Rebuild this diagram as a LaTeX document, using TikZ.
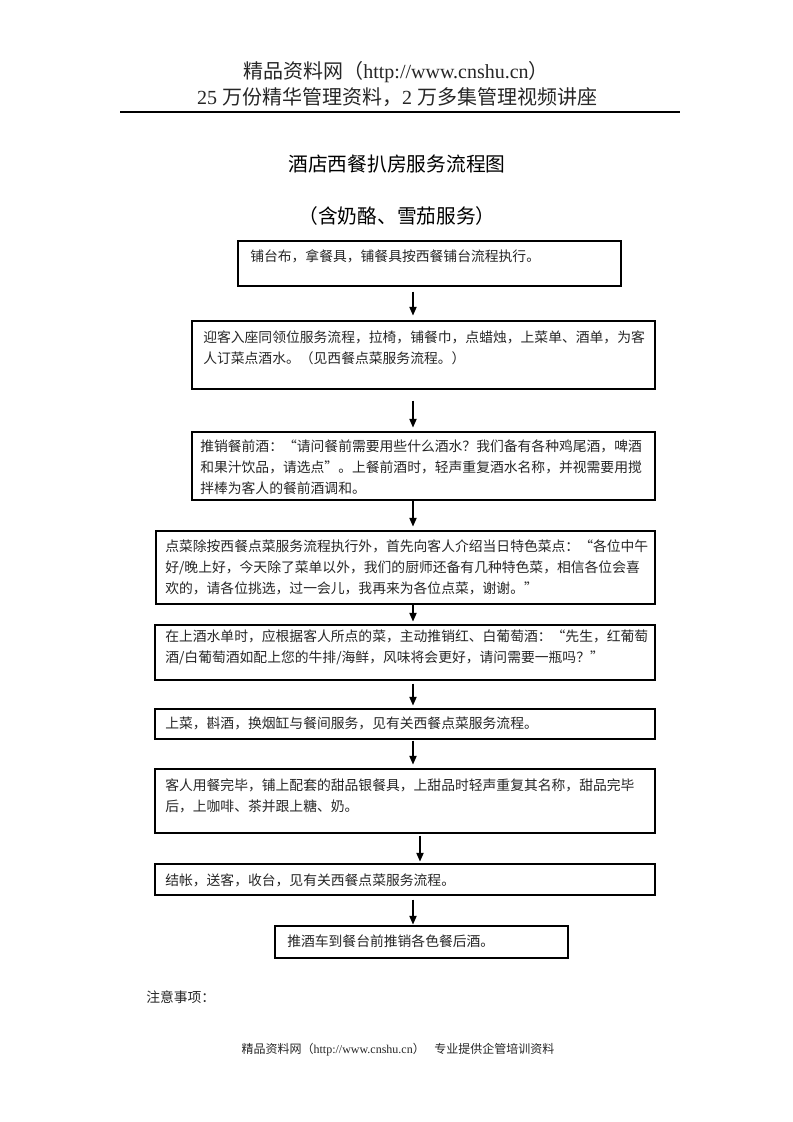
\documentclass[tikz,border=0pt]{standalone}
\usepackage{fontspec}
\setmainfont{Liberation Serif}
\newfontfamily\cjk{Noto Sans CJK SC}
\usetikzlibrary{arrows.meta,fit}
\begin{document}
\begin{tikzpicture}[x=0.75pt,y=-0.75pt,
  box/.style={draw, line width=0.8pt, inner sep=0pt},
  txt/.style={anchor=north west, inner sep=0pt, align=left, text=black!85,
    font=\cjk\fontsize{10.35pt}{15.5pt}\selectfont},
  hdr/.style={inner sep=0pt, text=black!85, font=\fontsize{15pt}{18pt}\selectfont},
  ttl/.style={inner sep=0pt, font=\cjk\fontsize{14.8pt}{18pt}\selectfont},
  arr/.style={-{Triangle[width=5.5pt,length=6.5pt]}, line width=0.8pt}]
\useasboundingbox (0,0) rectangle (793,1122);
\fill[white] (0,0) rectangle (793,1122);

% header
\node[hdr] (h1) at (396,72) {{\cjk 精品资料网（}http://www.cnshu.cn{\cjk ）}};
\node[hdr] (h2) at (397,97) {25 {\cjk 万份精华管理资料，}2 {\cjk 万多集管理视频讲座}};
\coordinate (rl) at (120,112);
\coordinate (rr) at (680,112);
\draw[line width=0.8pt] (rl) -- (rr);

% titles
\node[ttl] (t1) at (397,164) {酒店西餐扒房服务流程图};
\node[ttl] (t2) at (397,216) {（含奶酪、雪茄服务）};

% boxes
\node[box, fit={(238,241) (621,286)}] (b1) {};
\node[box, fit={(192,321) (655,389)}] (b2) {};
\node[box, fit={(192,432) (655,500)}] (b3) {};
\node[box, fit={(156,531) (655,604)}] (b4) {};
\node[box, fit={(155,625) (655,680)}] (b5) {};
\node[box, fit={(155,709) (655,739)}] (b6) {};
\node[box, fit={(155,769) (655,833)}] (b7) {};
\node[box, fit={(155,864) (655,895)}] (b8) {};
\node[box, fit={(275,926) (568,958)}] (b9) {};

% texts
\node[txt] (x1) at (250,249.5) {铺台布，拿餐具，铺餐具按西餐铺台流程执行。};
\node[txt] (x2) at (203,330.5) {迎客入座同领位服务流程，拉椅，铺餐巾，点蜡烛，上菜单、酒单，为客\\人订菜点酒水。（见西餐点菜服务流程。）};
\node[txt] (x3) at (200,440) {推销餐前酒：“请问餐前需要用些什么酒水？我们备有各种鸡尾酒，啤酒\\和果汁饮品，请选点”。上餐前酒时，轻声重复酒水名称，并视需要用搅\\拌棒为客人的餐前酒调和。};
\node[txt] (x4) at (165,540) {点菜除按西餐点菜服务流程执行外，首先向客人介绍当日特色菜点：“各位中午\\好/晚上好，今天除了菜单以外，我们的厨师还备有几种特色菜，相信各位会喜\\欢的，请各位挑选，过一会儿，我再来为各位点菜，谢谢。”};
\node[txt] (x5) at (165,629.5) {在上酒水单时，应根据客人所点的菜，主动推销红、白葡萄酒：“先生，红葡萄\\酒/白葡萄酒如配上您的牛排/海鲜，风味将会更好，请问需要一瓶吗？”};
\node[txt] (x6) at (165,716.5) {上菜，斟酒，换烟缸与餐间服务，见有关西餐点菜服务流程。};
\node[txt] (x7) at (165,778.5) {客人用餐完毕，铺上配套的甜品银餐具，上甜品时轻声重复其名称，甜品完毕\\后，上咖啡、茶并跟上糖、奶。};
\node[txt] (x8) at (165,873.5) {结帐，送客，收台，见有关西餐点菜服务流程。};
\node[txt] (x9) at (287,934.5) {推酒车到餐台前推销各色餐后酒。};

% arrows
\coordinate (ax) at (413,0);
\coordinate (ay) at (420,0);
\draw[arr, shorten <=3.75pt, shorten >=3.75pt] (b1.south -| ax) -- (b2.north -| ax);
\draw[arr, shorten <=8.25pt, shorten >=3pt] (b2.south -| ax) -- (b3.north -| ax);
\draw[arr, shorten >=3pt] (b3.south -| ax) -- (b4.north -| ax);
\draw[arr, shorten >=2.25pt] (b4.south -| ax) -- (b5.north -| ax);
\draw[arr, shorten <=2.25pt, shorten >=2.25pt] (b5.south -| ax) -- (b6.north -| ax);
\draw[arr, shorten <=0.75pt, shorten >=3pt] (b6.south -| ax) -- (b7.north -| ax);
\draw[arr, shorten <=1.5pt, shorten >=1.5pt] (b7.south -| ay) -- (b8.north -| ay);
\draw[arr, shorten <=3pt, shorten >=0.75pt] (b8.south -| ax) -- (b9.north -| ax);

% notes and footer
\node[txt, anchor=west] (n1) at (146,997) {注意事项：};
\node[inner sep=0pt, text=black!85, font=\fontsize{9pt}{11pt}\selectfont] (f1) at (398,1050)
  {{\cjk 精品资料网（}http://www.cnshu.cn{\cjk ）\hspace{0.8em}专业提供企管培训资料}};
\end{tikzpicture}
\end{document}
